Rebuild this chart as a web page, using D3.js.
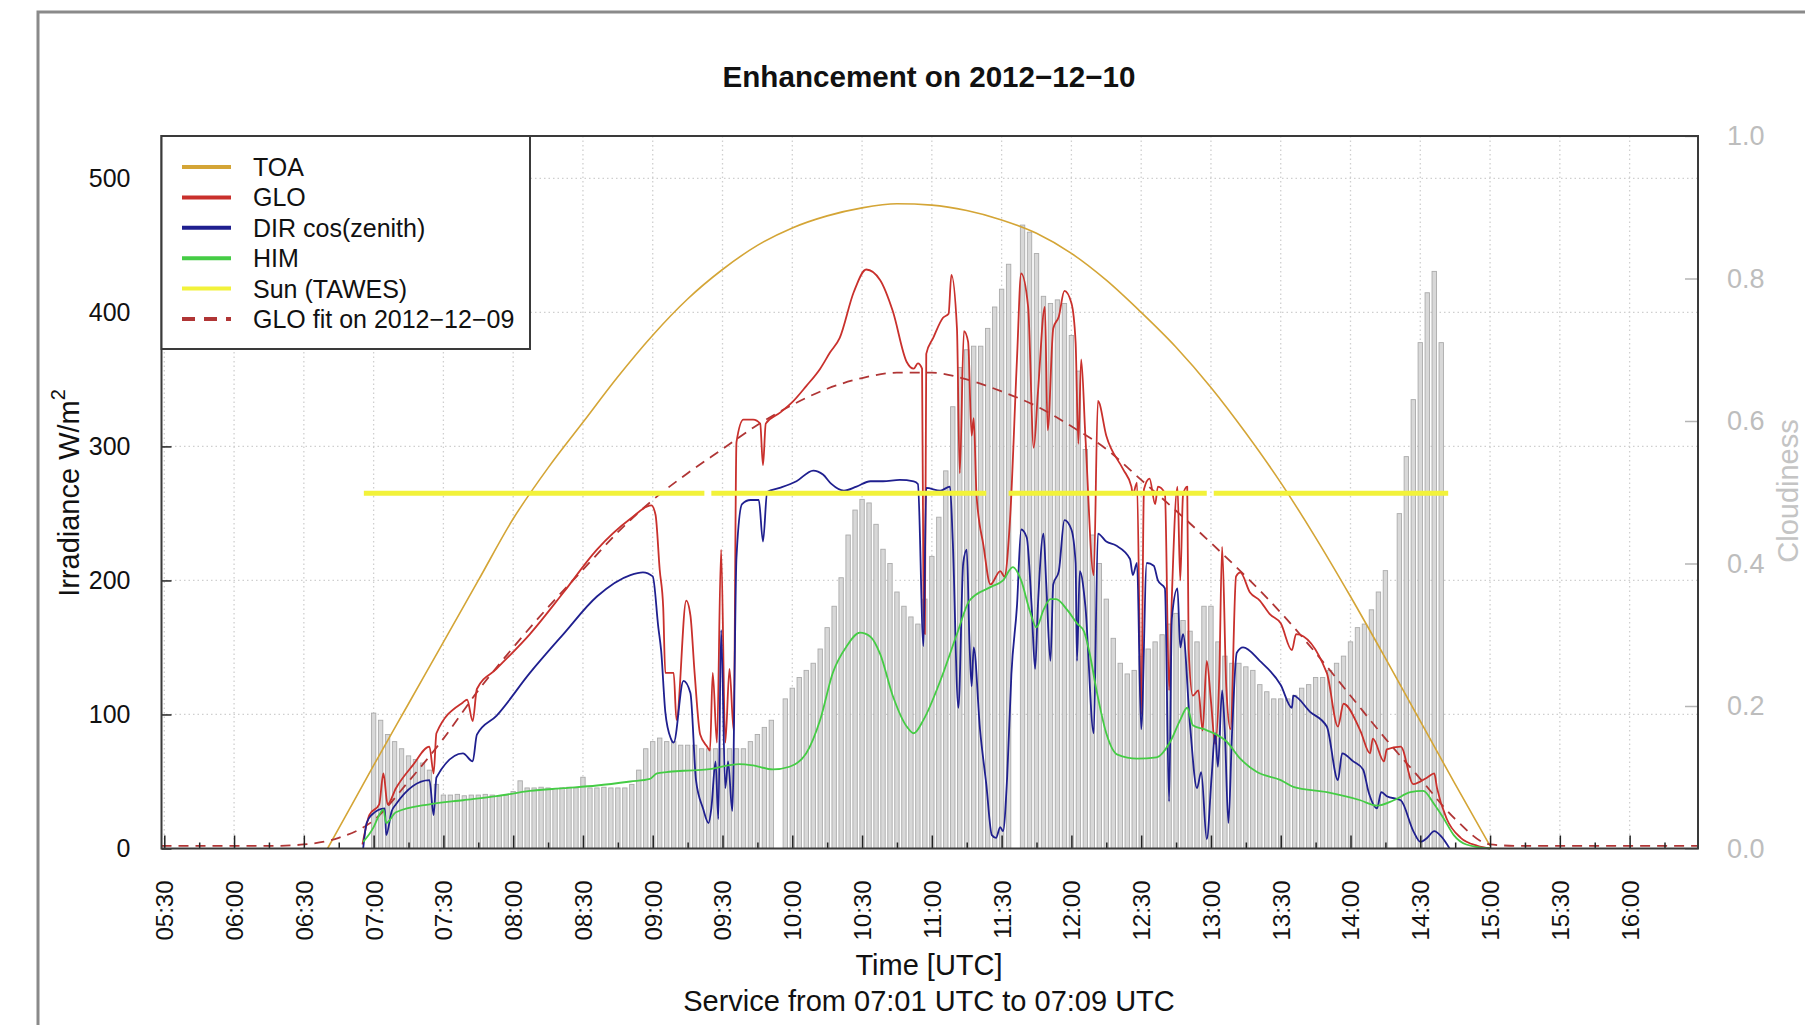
<!DOCTYPE html>
<html>
<head>
<meta charset="utf-8">
<script src="https://cdn.jsdelivr.net/npm/d3@7"></script>
<style>
  body { margin: 0; background: #fff; }
  svg { display: block; font-family: "Liberation Sans", Arial, sans-serif; }
</style>
</head>
<body>
<svg id="chart" width="1805" height="1025"></svg>
<script>
// all times are decimal hours UTC on 2012-12-10
const xTickLabels = ["05:30","06:00","06:30","07:00","07:30","08:00","08:30","09:00","09:30","10:00","10:30",
  "11:00","11:30","12:00","12:30","13:00","13:30","14:00","14:30","15:00","15:30","16:00"];
const yTicks = [0, 100, 200, 300, 400, 500];
const cloudTicks = [0, 0.2, 0.4, 0.6, 0.8, 1.0];

// top of atmosphere
const toa = [[6.67,0],[6.75,15],[7.0,62],[7.25,108],[7.5,154],[7.75,200],[8.0,246],[8.25,284],[8.5,318],
  [8.75,352],[9.0,383],[9.25,410],[9.5,432],[9.75,450],[10.0,463],[10.25,472],[10.5,478],[10.75,481],
  [11.0,480],[11.25,476],[11.5,469],[11.75,459],[12.0,444],[12.25,424],[12.5,400],[12.75,374],[13.0,344],
  [13.25,310],[13.5,273],[13.75,232],[14.0,188],[14.25,142],[14.5,95],[14.75,48],[15.0,2]];

// global radiation
const glo = [[6.92,3],[6.97,25],[7.04,33],[7.07,56],[7.10,33],[7.16,45],[7.28,62],[7.40,76],[7.43,56],
  [7.45,86],[7.64,109],[7.67,111],[7.71,95],[7.74,119],[7.88,134],[8.12,160],[8.36,191],[8.60,223],
  [8.84,246],[8.99,256],[9.02,249],[9.05,208],[9.075,180],[9.09,131],[9.15,131],[9.17,96],[9.24,185],
  [9.27,174],[9.30,131],[9.34,85],[9.39,76],[9.41,73],[9.43,131],[9.46,79],[9.49,223],[9.52,79],
  [9.55,134],[9.58,88],[9.60,303],[9.65,320],[9.72,320],[9.77,317],[9.79,286],[9.81,317],[9.91,325],
  [10.0,333],[10.10,345],[10.20,358],[10.27,370],[10.34,381],[10.44,415],[10.53,432],[10.63,424],
  [10.72,401],[10.82,363],[10.87,358],[10.90,362],[10.93,358],[10.94,188],[10.95,160],[10.96,369],
  [11.01,381],[11.08,396],[11.12,399],[11.14,428],[11.18,388],[11.20,280],[11.23,386],[11.26,378],
  [11.285,308],[11.30,321],[11.32,264],[11.37,226],[11.42,197],[11.49,207],[11.52,203],[11.56,245],
  [11.61,365],[11.64,429],[11.69,404],[11.73,299],[11.76,340],[11.81,404],[11.83,312],[11.87,388],
  [11.91,397],[11.95,416],[12.00,407],[12.03,378],[12.05,302],[12.07,365],[12.10,308],[12.16,204],
  [12.19,334],[12.25,308],[12.37,283],[12.43,270],[12.44,264],[12.47,273],[12.50,100],[12.52,268],
  [12.56,276],[12.60,257],[12.62,270],[12.67,265],[12.70,118],[12.72,188],[12.76,270],[12.78,200],
  [12.80,264],[12.83,270],[12.84,149],[12.87,114],[12.91,118],[12.94,88],[12.97,140],[13.00,110],
  [13.03,78],[13.06,130],[13.08,225],[13.11,120],[13.14,89],[13.18,203],[13.21,206],[13.28,191],
  [13.35,185],[13.42,175],[13.50,168],[13.58,148],[13.61,160],[13.83,131],[13.91,91],[13.95,108],
  [14.07,88],[14.14,71],[14.16,82],[14.24,65],[14.26,74],[14.36,76],[14.45,48],[14.55,53],[14.60,56],
  [14.62,45],[14.69,22],[14.79,8],[14.91,2],[15.0,0]];

// direct radiation times cos(zenith)
const dir = [[6.925,0],[6.95,19],[6.985,25],[7.08,30],[7.09,10],[7.13,28],[7.16,33],[7.40,51],[7.43,25],
  [7.45,53],[7.64,71],[7.71,65],[7.74,85],[7.88,99],[8.12,131],[8.36,160],[8.60,188],[8.84,204],
  [8.93,206],[9.00,203],[9.04,165],[9.06,148],[9.09,102],[9.13,82],[9.15,79],[9.22,125],[9.27,116],
  [9.31,51],[9.36,30],[9.40,19],[9.42,30],[9.45,65],[9.47,22],[9.49,163],[9.52,45],[9.54,65],[9.57,28],
  [9.60,217],[9.64,257],[9.70,260],[9.76,260],[9.79,229],[9.82,266],[9.91,269],[10.03,274],[10.15,282],
  [10.22,279],[10.28,272],[10.37,267],[10.46,270],[10.56,274],[10.65,274],[10.77,275],[10.87,274],
  [10.90,272],[10.94,151],[10.96,269],[11.06,267],[11.13,270],[11.15,229],[11.19,105],[11.225,213],
  [11.25,223],[11.27,153],[11.285,121],[11.30,150],[11.345,89],[11.39,48],[11.43,10],[11.46,8],
  [11.49,16],[11.51,13],[11.54,54],[11.57,130],[11.61,181],[11.64,238],[11.68,232],[11.715,181],
  [11.74,134],[11.76,181],[11.80,235],[11.82,197],[11.85,140],[11.87,197],[11.91,207],[11.95,245],
  [12.00,238],[12.03,213],[12.04,140],[12.06,207],[12.10,181],[12.16,86],[12.19,235],[12.25,229],
  [12.32,226],[12.42,216],[12.44,204],[12.47,213],[12.50,89],[12.54,213],[12.59,211],[12.62,200],
  [12.67,194],[12.70,35],[12.72,172],[12.76,194],[12.78,150],[12.80,160],[12.85,92],[12.90,45],
  [12.93,57],[12.97,7],[13.005,54],[13.03,86],[13.05,61],[13.08,118],[13.10,86],[13.125,19],[13.15,83],
  [13.185,146],[13.23,150],[13.35,140],[13.50,122],[13.58,105],[13.59,114],[13.71,102],[13.83,91],
  [13.91,51],[13.94,71],[14.02,65],[14.09,59],[14.13,42],[14.19,30],[14.22,42],[14.26,39],[14.36,36],
  [14.45,13],[14.50,5],[14.55,8],[14.60,13],[14.65,9],[14.71,0]];

// HIM satellite estimate
const him = [[6.925,5],[7.00,16],[7.04,25],[7.07,29],[7.09,19],[7.16,27],[7.40,33],[7.64,36],[7.88,39],
  [8.12,43],[8.36,45],[8.60,47],[8.84,50],[8.98,52],[9.03,56],[9.10,57],[9.22,58],[9.39,59],[9.62,63],
  [9.72,62],[9.86,59],[9.98,61],[10.10,71],[10.20,96],[10.29,131],[10.39,151],[10.485,161],[10.56,158],
  [10.63,145],[10.72,114],[10.82,91],[10.87,86],[10.94,96],[11.06,125],[11.18,160],[11.27,185],
  [11.42,195],[11.51,200],[11.58,210],[11.64,200],[11.70,178],[11.75,165],[11.80,178],[11.85,186],
  [11.89,186],[11.97,178],[12.04,168],[12.09,162],[12.13,146],[12.18,118],[12.25,86],[12.33,70],
  [12.47,67],[12.61,68],[12.71,80],[12.78,96],[12.83,105],[12.87,92],[12.95,89],[13.02,86],[13.11,80],
  [13.21,67],[13.33,57],[13.50,51],[13.59,46],[13.83,42],[14.07,36],[14.19,32],[14.31,36],[14.43,42],
  [14.52,43],[14.60,33],[14.67,22],[14.74,10],[14.83,3],[15.0,0]];

// clear sky fit of the previous day
const fit = [[5.48,2],[6.3,2],[6.5,3],[6.75,8],[7.0,21],[7.25,50],[7.5,82],[7.75,118],[8.0,150],[8.25,180],
  [8.5,208],[8.75,236],[9.0,260],[9.25,280],[9.5,298],[9.75,316],[10.0,331],[10.25,343],[10.5,351],
  [10.75,355],[11.0,355],[11.25,350],[11.5,341],[11.75,330],[12.0,315],[12.25,298],[12.5,275],
  [12.75,252],[13.0,228],[13.25,203],[13.5,176],[13.75,146],[14.0,114],[14.25,82],[14.5,52],[14.75,22],
  [15.0,3],[15.2,2],[16.49,2]];

// sunshine periods (TAWES)
const sunLevel = 265;
const sunPeriods = [[6.93, 9.37], [9.42, 11.39], [11.55, 12.97], [13.02, 14.70]];

// cloudiness, one value every 3 minutes from 07:00
const cloudStart = 7.0;
const cloudStepMin = 3;
const cloud = [
  0.19,0.18,0.16,0.15,0.14,0.13,0.125,0.12,0.11,0.09,
  0.075,0.075,0.076,0.074,0.075,0.075,0.076,0.075,0.074,0.075,
  0.08,0.095,0.085,0.085,0.086,0.085,0.084,0.085,0.086,0.085,
  0.10,0.085,0.085,0.086,0.085,0.085,0.085,0.09,0.11,0.14,
  0.15,0.155,0.15,0.15,0.145,0.145,0.145,0.14,0.14,0.14,
  0.14,0.14,0.14,0.14,0.15,0.16,0.17,0.18,0,0.21,
  0.225,0.24,0.25,0.26,0.28,0.31,0.34,0.38,0.44,0.475,
  0.49,0.485,0.455,0.42,0.40,0.36,0.34,0.325,0.315,0.35,
  0.41,0.465,0.53,0.62,0.675,0.70,0.705,0.705,0.73,0.76,
  0.785,0.82,0,0.875,0.865,0.835,0.775,0.765,0.77,0.765,
  0.72,0.67,0.56,0.44,0.40,0.35,0.295,0.26,0.245,0.25,
  0.27,0.28,0.29,0.30,0.315,0.33,0.32,0.305,0.29,0.34,
  0.34,0.29,0.27,0.26,0.26,0.255,0.25,0.23,0.22,0.21,
  0.21,0.21,0.215,0.225,0.23,0.24,0.24,0.25,0.26,0.27,
  0.29,0.31,0.315,0.335,0.36,0.39,0,0.47,0.55,0.63,
  0.71,0.78,0.81,0.71
];

const legendItems = [
  {label: "TOA", color: "#d4a536", dash: null},
  {label: "GLO", color: "#c9302c", dash: null},
  {label: "DIR cos(zenith)", color: "#1f1f8f", dash: null},
  {label: "HIM", color: "#45cc45", dash: null},
  {label: "Sun (TAWES)", color: "#f2f23a", dash: null},
  {label: "GLO fit on 2012\u221212\u221209", color: "#b03535", dash: "13,9"}
];

const svg = d3.select("#chart");
const W = 1805, H = 1025;
const pL = 161.5, pR = 1698, pT = 136, pB = 848.5;

const hm = s => { const p = s.split(":"); return +p[0] + p[1] / 60; };

const x = d3.scaleLinear().domain([5.48, 16.49]).range([pL, pR]);
const y = d3.scaleLinear().domain([0, 531.6]).range([pB, pT]);
const y2 = d3.scaleLinear().domain([0, 1]).range([pB, pT]);

// outer frame
svg.append("rect").attr("x", 38).attr("y", 12).attr("width", W).attr("height", H + 50)
  .attr("fill", "none").attr("stroke", "#8a8a8a").attr("stroke-width", 3);

// title
svg.append("text").attr("x", 929).attr("y", 76).attr("text-anchor", "middle")
  .attr("dominant-baseline", "central").attr("font-weight", "bold").attr("font-size", 29.6)
  .attr("fill", "#111").text("Enhancement on 2012\u221212\u221210");

// grid
const grid = svg.append("g").attr("stroke", "#cfcfcf").attr("stroke-width", 1.3).attr("stroke-dasharray", "1.5,3");
yTicks.filter(d => d > 0).forEach(v => {
  grid.append("line").attr("x1", pL).attr("x2", pR).attr("y1", y(v)).attr("y2", y(v));
});
xTickLabels.forEach(s => {
  grid.append("line").attr("x1", x(hm(s))).attr("x2", x(hm(s))).attr("y1", pT).attr("y2", pB);
});

// cloudiness bars
const plot = svg.append("g");
plot.selectAll("rect.cloud").data(cloud).join("rect")
  .attr("class", "cloud")
  .attr("x", (d, i) => x(cloudStart + i * cloudStepMin / 60) - 2.2)
  .attr("width", 4.4)
  .attr("y", d => y2(d))
  .attr("height", d => pB - y2(d))
  .attr("fill", "#d8d8d8")
  .attr("stroke", "#ababab")
  .attr("stroke-width", 0.9);

const line = d3.line().x(d => x(d[0])).y(d => y(d[1])).curve(d3.curveMonotoneX);

function drawLine(data, color, width, dash) {
  const p = plot.append("path").datum(data).attr("d", line)
    .attr("fill", "none").attr("stroke", color).attr("stroke-width", width)
    .attr("stroke-linejoin", "round");
  if (dash) p.attr("stroke-dasharray", dash);
  return p;
}

drawLine(toa, "#d4a536", 1.6);
drawLine(fit, "#b03535", 1.8, "10,7");
drawLine(glo, "#c9302c", 1.8);
drawLine(dir, "#1f1f8f", 1.8);
drawLine(him, "#45cc45", 1.8);

// sunshine line
sunPeriods.forEach(p => {
  plot.append("line").attr("x1", x(p[0])).attr("x2", x(p[1]))
    .attr("y1", y(sunLevel)).attr("y2", y(sunLevel))
    .attr("stroke", "#f2f23a").attr("stroke-width", 5);
});

// axes
const axL = svg.append("g").attr("transform", `translate(${pL},0)`)
  .call(d3.axisLeft(y).tickValues(yTicks).tickSize(-10).tickPadding(31));
axL.selectAll("text").attr("font-size", 25).attr("fill", "#111").attr("font-family", "Liberation Sans, Arial, sans-serif");
axL.selectAll("line").attr("stroke", "#222").attr("stroke-width", 1.5);

const axR = svg.append("g").attr("transform", `translate(${pR},0)`)
  .call(d3.axisRight(y2).tickValues(cloudTicks).tickFormat(d3.format(".1f")).tickSize(-13).tickPadding(29));
axR.selectAll("text").attr("font-size", 27).attr("fill", "#bdbdbd").attr("font-family", "Liberation Sans, Arial, sans-serif");
axR.selectAll("line").attr("stroke", "#b5b5b5").attr("stroke-width", 1.5);

const minorTicks = xTickLabels.map(s => hm(s) + 0.25);
const axBm = svg.append("g").attr("transform", `translate(0,${pB})`)
  .call(d3.axisBottom(x).tickValues(minorTicks).tickSize(-6).tickFormat(""));
axBm.selectAll("line").attr("stroke", "#222").attr("stroke-width", 1.5);

const axB = svg.append("g").attr("transform", `translate(0,${pB})`)
  .call(d3.axisBottom(x).tickValues(xTickLabels.map(hm)).tickSize(-13)
    .tickFormat((d, i) => xTickLabels[i]));
axB.selectAll("line").attr("stroke", "#222").attr("stroke-width", 1.5);
axB.selectAll("text")
  .attr("transform", "rotate(-90)")
  .attr("x", -32).attr("y", 0).attr("dy", "0.35em")
  .attr("text-anchor", "end")
  .attr("font-size", 24).attr("fill", "#111").attr("font-family", "Liberation Sans, Arial, sans-serif");

svg.selectAll(".domain").remove();

// plot box
svg.append("rect").attr("x", pL).attr("y", pT).attr("width", pR - pL).attr("height", pB - pT)
  .attr("fill", "none").attr("stroke", "#3a3a3a").attr("stroke-width", 2);

// axis titles
const yt = svg.append("text").attr("transform", "translate(69,493) rotate(-90)")
  .attr("text-anchor", "middle").attr("dominant-baseline", "central")
  .attr("font-size", 29).attr("fill", "#111");
yt.append("tspan").text("Irradiance W/m");
yt.append("tspan").attr("dy", -11).attr("font-size", 20).text("2");

svg.append("text").attr("transform", "translate(1788,491) rotate(-90)")
  .attr("text-anchor", "middle").attr("dominant-baseline", "central")
  .attr("font-size", 29).attr("fill", "#c4c4c4").text("Cloudiness");

svg.append("text").attr("x", 929).attr("y", 965).attr("text-anchor", "middle")
  .attr("dominant-baseline", "central").attr("font-size", 29).attr("fill", "#111").text("Time [UTC]");
svg.append("text").attr("x", 929).attr("y", 1001).attr("text-anchor", "middle")
  .attr("dominant-baseline", "central").attr("font-size", 29).attr("fill", "#111")
  .text("Service from 07:01 UTC to 07:09 UTC");

// legend
const lg = svg.append("g");
lg.append("rect").attr("x", pL).attr("y", pT).attr("width", 530 - pL).attr("height", 349 - pT)
  .attr("fill", "#fff").attr("stroke", "#3a3a3a").attr("stroke-width", 2);
legendItems.forEach((it, i) => {
  const cy = 167 + i * 30.4;
  const l = lg.append("line").attr("x1", 182).attr("x2", 231).attr("y1", cy).attr("y2", cy)
    .attr("stroke", it.color).attr("stroke-width", 4);
  if (it.dash) l.attr("stroke-dasharray", it.dash);
  lg.append("text").attr("x", 253).attr("y", cy).attr("dominant-baseline", "central")
    .attr("font-size", 25).attr("fill", "#111").text(it.label);
});
</script>
</body>
</html>
